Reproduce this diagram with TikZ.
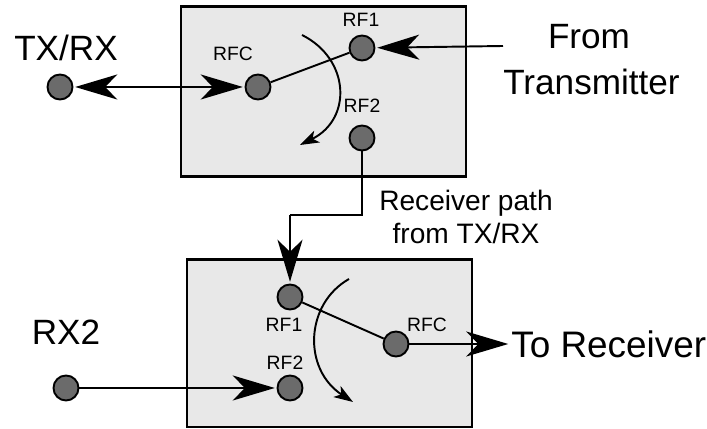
\documentclass[tikz,border=0pt]{standalone}
\usepackage{fontspec}
\setmainfont{Liberation Sans}
\usetikzlibrary{arrows.meta,positioning}

\begin{document}
\begin{tikzpicture}[
    switchbox/.style={rectangle, draw, line width=1.7pt, fill=black!9},
    port/.style={circle, draw, line width=1.1pt, fill=black!58, minimum size=0.5cm, inner sep=0pt},
    biglbl/.style={font=\fontsize{20}{24}\selectfont, align=center, inner sep=0pt},
    midlbl/.style={font=\fontsize{16}{18.8}\selectfont, align=center, inner sep=0pt},
    rflbl/.style={font=\fontsize{11}{12}\selectfont, inner sep=0pt},
    flow/.style={line width=1.1pt, -{Stealth[length=0.84cm, width=0.5cm, inset=0.24cm]}, shorten >=1pt},
    bothflow/.style={line width=1.1pt, {Stealth[length=0.84cm, width=0.5cm, inset=0.24cm]}-{Stealth[length=0.84cm, width=0.5cm, inset=0.24cm]}, shorten >=1pt, shorten <=1pt},
    sweep/.style={line width=1.1pt, -{Stealth[length=0.38cm, width=0.26cm, inset=0.1cm]}},
    wire/.style={line width=1.1pt},
]
\useasboundingbox (0,0) rectangle (14.14,8.58);

% ---------- switch boxes ----------
\node[switchbox, minimum width=5.7cm, minimum height=3.4cm] (top) at (6.47,6.74) {};
\node[switchbox, minimum width=5.7cm, minimum height=3.34cm] (bot) at (6.59,1.71) {};

% ---------- top switch ----------
\node[port] (txrx) at (1.2,6.84) {};
\node[port] (rfcA) at (5.16,6.84) {};
\node[port] (rfoneA) at (7.24,7.62) {};
\node[port] (rftwoA) at (7.24,5.82) {};
\node[biglbl] (txrxl) at (1.32,7.62) {TX/RX};
\node[rflbl] (rfcAl) at (4.66,7.5) {RFC};
\node[rflbl] (rfoneAl) at (7.22,8.18) {RF1};
\node[rflbl] (rftwoAl) at (7.24,6.46) {RF2};
\node[biglbl] (from) at (11.78,7.85) {From};
\node[biglbl] (trans) at (11.83,6.95) {Transmitter};
\coordinate (txin) at (10.06,7.66);

\draw[bothflow] (txrx) -- (rfcA);
\draw[wire] (rfcA) -- (rfoneA);
\draw[flow] (txin) -- (rfoneA);

\coordinate (arcAs) at (6.04,7.88);
\coordinate (arcAe) at (6.0,5.68);
\draw[sweep] (arcAs) .. controls (7.0,7.4) and (7.05,6.2) .. (arcAe);

% ---------- receiver path ----------
\coordinate (bendA) at (7.24,4.28);
\coordinate (bendB) at (5.8,4.28);
\node[port] (rfoneB) at (5.8,2.64) {};
\node[midlbl] (recv) at (9.32,4.25) {Receiver path\\from TX/RX};
\draw[wire] (rftwoA) -- (bendA) -- (bendB);
\draw[flow] (bendB) -- (rfoneB);

% ---------- bottom switch ----------
\node[port] (rfcB) at (7.92,1.7) {};
\node[port] (rftwoB) at (5.8,0.82) {};
\node[port] (rxtwo) at (1.32,0.82) {};
\node[rflbl] (rfoneBl) at (5.68,2.08) {RF1};
\node[rflbl] (rfcBl) at (8.54,2.08) {RFC};
\node[rflbl] (rftwoBl) at (5.7,1.32) {RF2};
\node[biglbl] (rxtwol) at (1.32,1.94) {RX2};
\node[biglbl, font=\fontsize{21}{24}\selectfont, anchor=west] (torecv) at (10.22,1.7) {To Receiver};
\coordinate (rxout) at (10.2,1.7);

\draw[wire] (rfoneB) -- (rfcB);
\draw[flow] (rfcB) -- (rxout);
\draw[flow] (rxtwo) -- (rftwoB);

\coordinate (arcBs) at (6.98,3.0);
\coordinate (arcBe) at (7.06,0.54);
\draw[sweep] (arcBs) .. controls (6.1,2.5) and (6.05,1.2) .. (arcBe);

\end{tikzpicture}
\end{document}
